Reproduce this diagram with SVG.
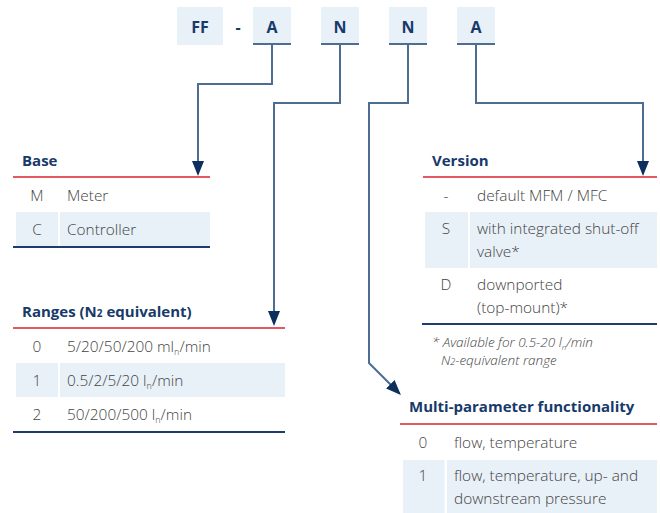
<svg xmlns="http://www.w3.org/2000/svg" width="660" height="513" viewBox="0 0 660 513">
  <style>
    .code { fill: #e8f0f8; }
    .codebar { stroke: #4d6d93; stroke-width: 2; }
    .codetxt { font-family: "Open Sans", "Noto Sans", sans-serif; font-weight: 700; font-size: 16px; fill: #173a6a; text-anchor: middle; }
    .title { font-family: "Open Sans", "Noto Sans", sans-serif; font-weight: 700; font-size: 15px; fill: #173a6a; }
    .txt { font-family: "Open Sans", "Noto Sans", sans-serif; font-weight: 300; font-size: 15.4px; fill: #444; }
    .key { text-anchor: middle; }
    .note { font-family: "Open Sans", "Noto Sans", sans-serif; font-weight: 300; font-style: italic; font-size: 13.5px; fill: #444; }
    .row { fill: #e8f0f8; }
    .gap { fill: #ffffff; }
    .red { stroke: #d9202f; stroke-width: 1.5; }
    .end { stroke: #1d3d6e; stroke-width: 2; }
    .conn { fill: none; stroke: #4d6d93; stroke-width: 2; }
  </style>
  <defs>
    <marker id="arrow" viewBox="0 0 15 12" refX="13" refY="6" markerWidth="15" markerHeight="12" markerUnits="userSpaceOnUse" orient="auto">
      <path d="M0,0 L15,6 L0,12 z" fill="#0d2f5e"/>
    </marker>
  </defs>

  <!-- order code header -->
  <g id="code-ff">
    <rect class="code" x="177" y="7" width="46" height="38"/>
    <text class="codetxt" x="200" y="33">FF</text>
  </g>
  <g id="code-dash">
    <text class="codetxt" x="238" y="33">-</text>
  </g>
  <g id="code-a1">
    <rect class="code" x="253" y="7" width="38" height="37"/>
    <line class="codebar" x1="253" y1="44" x2="291" y2="44"/>
    <text class="codetxt" x="272" y="33">A</text>
  </g>
  <g id="code-n1">
    <rect class="code" x="321" y="7" width="38" height="37"/>
    <line class="codebar" x1="321" y1="44" x2="359" y2="44"/>
    <text class="codetxt" x="340" y="33">N</text>
  </g>
  <g id="code-n2">
    <rect class="code" x="389" y="7" width="38" height="37"/>
    <line class="codebar" x1="389" y1="44" x2="427" y2="44"/>
    <text class="codetxt" x="408" y="33">N</text>
  </g>
  <g id="code-a2">
    <rect class="code" x="457" y="7" width="38" height="37"/>
    <line class="codebar" x1="457" y1="44" x2="495" y2="44"/>
    <text class="codetxt" x="476" y="33">A</text>
  </g>

  <!-- connectors -->
  <g id="connectors">
    <path class="conn" d="M272 45 V84 H198 V174" marker-end="url(#arrow)"/>
    <path class="conn" d="M340 45 V103 H274 V324" marker-end="url(#arrow)"/>
    <path class="conn" d="M408 45 V103 H369 V363 L399.5 393.5" marker-end="url(#arrow)"/>
    <path class="conn" d="M476 45 V103 H643 V174" marker-end="url(#arrow)"/>
  </g>

  <!-- Base -->
  <g id="base">
    <text class="title" x="22" y="166">Base</text>
    <rect class="row" x="16" y="212" width="194" height="34"/>
    <rect class="gap" x="58" y="212" width="2" height="34"/>
    <line class="red" x1="13" y1="177" x2="210" y2="177"/>
    <line class="end" x1="13" y1="247" x2="210" y2="247"/>
    <text class="txt key" x="37" y="201">M</text>
    <text class="txt" x="67" y="201">Meter</text>
    <text class="txt key" x="37" y="235">C</text>
    <text class="txt" x="67" y="235">Controller</text>
  </g>

  <!-- Ranges -->
  <g id="ranges">
    <text class="title" x="22" y="317">Ranges (N<tspan font-size="10">2</tspan> equivalent)</text>
    <rect class="row" x="16" y="363" width="269" height="34"/>
    <rect class="gap" x="58" y="363" width="2" height="34"/>
    <line class="red" x1="13" y1="328" x2="285" y2="328"/>
    <line class="end" x1="13" y1="432" x2="285" y2="432"/>
    <text class="txt key" x="37" y="352">0</text>
    <text class="txt" x="67" y="352">5/20/50/200 ml<tspan font-size="9" dy="3">n</tspan><tspan dy="-3">/min</tspan></text>
    <text class="txt key" x="37" y="386">1</text>
    <text class="txt" x="67" y="386">0.5/2/5/20 l<tspan font-size="9" dy="3">n</tspan><tspan dy="-3">/min</tspan></text>
    <text class="txt key" x="37" y="420">2</text>
    <text class="txt" x="67" y="420">50/200/500 l<tspan font-size="9" dy="3">n</tspan><tspan dy="-3">/min</tspan></text>
  </g>

  <!-- Version -->
  <g id="version">
    <text class="title" x="432" y="166">Version</text>
    <rect class="row" x="425" y="212" width="232" height="56"/>
    <rect class="gap" x="468" y="212" width="2" height="56"/>
    <line class="red" x1="423" y1="177" x2="657" y2="177"/>
    <line class="end" x1="422" y1="324" x2="657" y2="324"/>
    <text class="txt key" x="446" y="201">-</text>
    <text class="txt" x="477" y="201">default MFM / MFC</text>
    <text class="txt key" x="446" y="234">S</text>
    <text class="txt" x="477" y="234">with integrated shut-off</text>
    <text class="txt" x="477" y="257">valve*</text>
    <text class="txt key" x="446" y="290">D</text>
    <text class="txt" x="477" y="290">downported</text>
    <text class="txt" x="477" y="313">(top-mount)*</text>
  </g>

  <!-- footnote -->
  <g id="footnote">
    <text class="note" x="432" y="347">* Available for 0.5-20 l<tspan font-size="8" dy="3">n</tspan><tspan dy="-3">/min</tspan></text>
    <text class="note" x="441" y="365">N<tspan font-size="9">2</tspan>-equivalent range</text>
  </g>

  <!-- Multi-parameter functionality -->
  <g id="multi-parameter">
    <text class="title" x="409" y="412">Multi-parameter functionality</text>
    <rect class="row" x="403" y="460" width="254" height="53"/>
    <rect class="gap" x="444.5" y="460" width="2.5" height="53"/>
    <line class="red" x1="400" y1="424" x2="657" y2="424"/>
    <text class="txt key" x="423" y="448">0</text>
    <text class="txt" x="454" y="448">flow, temperature</text>
    <text class="txt key" x="423" y="481">1</text>
    <text class="txt" x="454" y="481">flow, temperature, up- and</text>
    <text class="txt" x="454" y="504">downstream pressure</text>
  </g>
</svg>
